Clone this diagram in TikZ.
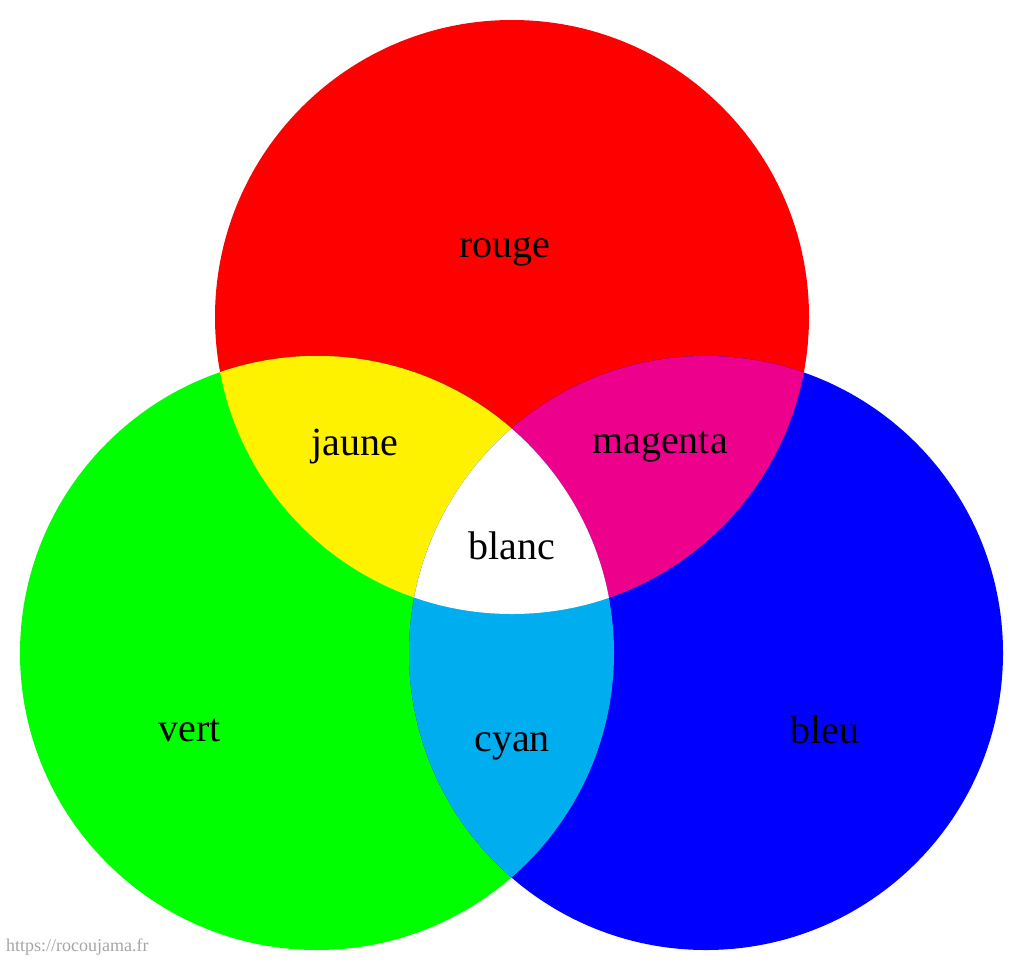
\documentclass[tikz,border=0pt]{standalone}
\usepackage{fontspec}
\setmainfont{Liberation Serif}
\begin{document}
\begin{tikzpicture}[x=1pt,y=-1pt,lab/.style={font=\fontsize{40}{48}\selectfont}]
\useasboundingbox (0,0) rectangle (1024,972);
\fill[white] (0,0) rectangle (1024,972);
\def\R{297}
\coordinate (r) at (512,317);
\coordinate (g) at (317,653);
\coordinate (b) at (706,653);
\fill[red] (r) circle (\R);
\fill[green] (g) circle (\R);
\fill[blue] (b) circle (\R);
\begin{scope}\clip (r) circle (\R); \fill[yellow] (g) circle (\R); \end{scope}
\begin{scope}\clip (r) circle (\R); \fill[magenta] (b) circle (\R); \end{scope}
\begin{scope}\clip (g) circle (\R); \fill[cyan] (b) circle (\R); \end{scope}
\begin{scope}\clip (r) circle (\R); \clip (g) circle (\R); \fill[white] (b) circle (\R); \end{scope}
\node[lab] (t1) at (505,252) {rouge};
\node[lab] (t2) at (355,447) {jaune};
\node[lab] (t3) at (660,447) {magenta};
\node[lab] (t4) at (512,546) {blanc};
\node[lab] (t5) at (190,730) {vert};
\node[lab] (t6) at (512,746) {cyan};
\node[lab] (t7) at (825,730) {bleu};
\node[anchor=south west,inner sep=2pt,text=gray!70,font=\fontsize{18}{20}\selectfont] (w) at (4,958) {https://rocoujama.fr};
\end{tikzpicture}
\end{document}
